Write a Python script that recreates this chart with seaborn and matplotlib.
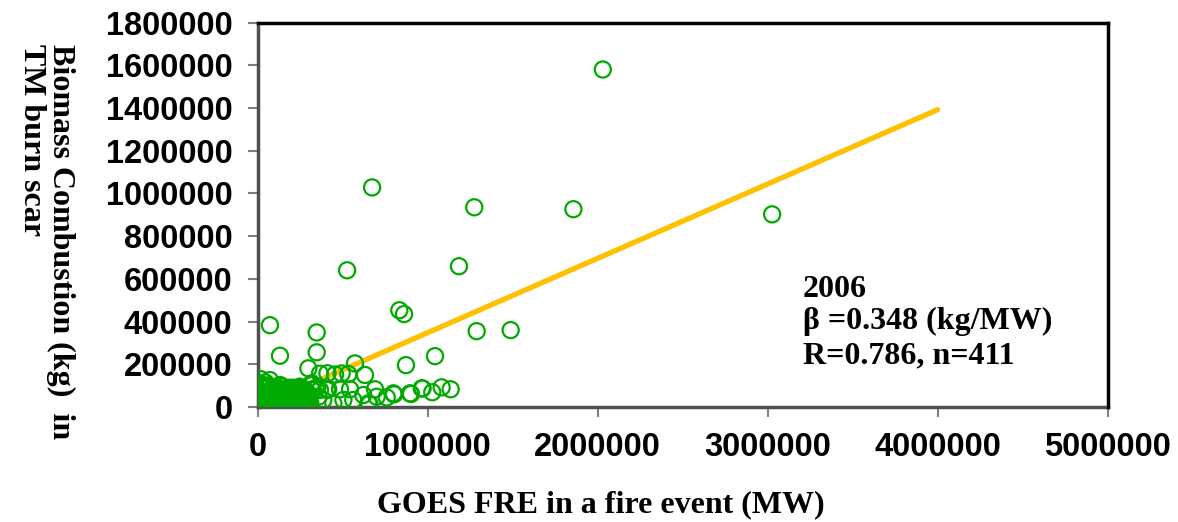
import matplotlib
matplotlib.use("Agg")
import matplotlib.pyplot as plt
import seaborn as sns
import numpy as np
import pandas as pd

# ---- data ----
# outlying / resolvable points (MW, kg)
fre_outer = [2030000, 673000, 1274000, 1857000, 3026000, 526000, 1184000, 833000, 861000,
             72000, 347000, 1288000, 1488000, 131000, 347000, 872000, 1043000, 298000, 572000,
             366000, 410000, 455000, 494000, 533000, 631000,
             72000, 131000, 180000, 249000, 318000, 366000, 406000,
             415000, 484000, 543000, 621000, 690000, 700000, 759000, 802000, 902000, 970000,
             1027000, 1082000, 1135000, 657000, 562000, 504000, 445000, 386000, 308000,
             357000, 318000, 320000, 340000, 350000, 651000, 798000, 896000, 965000]
bio_outer = [1580000, 1028000, 935000, 926000, 902000, 640000, 659000, 453000, 435000,
             383000, 349000, 355000, 360000, 240000, 256000, 196000, 238000, 181000, 204000,
             156000, 158000, 152000, 157000, 154000, 150000,
             126000, 103000, 87000, 87000, 80000, 80000, 80000,
             83000, 83000, 83000, 56000, 83000, 48000, 45000, 59000, 61000, 87000,
             69000, 92000, 83000, 14000, 33000, 33000, 17000, 33000, 2000,
             48000, 111000, 103000, 88000, 90000, 17000, 64000, 64000, 87000]

# dense cluster near the origin (thousands of MW, thousands of kg)
fre_cluster_k = [5, 8, 12, 15, 18, 20, 22, 25, 28, 30, 32, 35, 38, 40, 42, 45, 48, 50, 52, 55,
                 58, 60, 62, 65, 68, 70, 72, 75, 78, 80, 82, 85, 88, 90, 92, 95, 98, 100, 105, 108,
                 110, 112, 115, 118, 120, 125, 128, 130, 135, 138, 140, 145, 148, 150, 155, 158, 160,
                 165, 168, 170, 175, 178, 180, 185, 188, 190, 195, 198, 200, 205, 210, 215, 218, 220,
                 225, 230, 235, 240, 245, 250, 255, 260, 265, 270, 275, 280, 285, 290, 295, 300, 305,
                 310, 2, 3, 4, 6, 3, 10, 14, 20, 26, 35, 45, 55, 10, 15, 25, 40, 60, 90, 120, 160,
                 200, 240, 280, 5, 9, 12, 17, 24, 33, 43, 57, 67, 77, 87, 97, 107, 117, 127, 137,
                 147, 157, 167, 177, 187, 197, 207, 217, 227, 237, 247, 257, 267, 277, 287]
bio_cluster_k = [2, 10, 5, 20, 3, 35, 12, 8, 50, 25, 4, 15, 60, 30, 8, 45, 18, 2, 70, 28,
                 12, 90, 40, 6, 55, 22, 14, 35, 3, 65, 25, 10, 48, 18, 80, 5, 38, 28, 12, 60,
                 20, 42, 8, 30, 75, 15, 50, 4, 35, 22, 62, 10, 45, 28, 6, 55, 18,
                 38, 70, 12, 30, 48, 3, 22, 60, 40, 8, 28, 52, 15, 35, 5, 68, 25,
                 45, 10, 30, 58, 18, 38, 4, 25, 50, 12, 65, 30, 8, 45, 20, 60, 35,
                 15, 40, 25, 60, 15, 80, 95, 110, 130, 100, 85, 115, 100, 5, 1, 0, 1, 0, 1, 0, 1,
                 0, 2, 1, 30, 55, 75, 45, 65, 40, 25, 50, 35, 80, 60, 90, 45, 55, 85, 70,
                 95, 80, 55, 85, 90, 75, 90, 50, 75, 85, 95, 75, 85, 80, 70]

beta = 0.348
line_fre = [0, 4000000]

x_ticks = [0, 1000000, 2000000, 3000000, 4000000, 5000000]
y_ticks = [0, 200000, 400000, 600000, 800000, 1000000, 1200000, 1400000, 1600000, 1800000]

# ---- build frame ----
fre = list(fre_outer) + [v * 1000 for v in fre_cluster_k]
bio = list(bio_outer) + [v * 1000 for v in bio_cluster_k]
df = pd.DataFrame({"fre": fre, "bio": bio})
line_df = pd.DataFrame({"fre": line_fre, "bio": [beta * v for v in line_fre]})

sns.set_style("white")
plt.rcParams["font.family"] = ["Liberation Sans", "DejaVu Sans"]
plt.rcParams["text.color"] = "black"

fig = plt.figure(figsize=(11.78, 5.22), dpi=100)
ax = fig.add_axes([257.7 / 1178, 115 / 522, 850 / 1178, 384.5 / 522])

sns.lineplot(data=line_df, x="fre", y="bio", ax=ax, color="#FFC000", linewidth=3.8,
             solid_capstyle="round", zorder=2)
sns.scatterplot(data=df, x="fre", y="bio", ax=ax, s=135, facecolor="none",
                edgecolor="#00AA00", linewidth=1.6, zorder=3)

ax.set_xlim(0, 5000000)
ax.set_ylim(0, 1800000)
ax.set_xticks(x_ticks)
ax.set_yticks(y_ticks)
sans = ["Liberation Sans", "DejaVu Sans"]
ax.set_xticklabels([str(v) for v in x_ticks], fontsize=23.5, fontweight="bold",
                   family=sans, color="black")
ax.set_yticklabels([str(v) for v in y_ticks], fontsize=23.5, fontweight="bold",
                   family=sans, color="black")
ax.tick_params(axis="both", direction="out", length=7, width=1.5, color="#808080",
               pad=11, bottom=True, left=True)
ax.set_xlabel("")
ax.set_ylabel("")

for side in ["top", "right"]:
    ax.spines[side].set_color("black")
    ax.spines[side].set_linewidth(2.5)
for side in ["left", "bottom"]:
    ax.spines[side].set_color("#505050")
    ax.spines[side].set_linewidth(2.5)
    ax.spines[side].set_zorder(1)

serif = ["Liberation Serif", "DejaVu Serif"]
fig.text(601 / 1178, (522 - 505) / 522, "GOES FRE in a fire event (MW)", ha="center",
         va="center", fontsize=23, fontweight="bold", family=serif, color="black")
fig.text(46 / 1178, (522 - 44) / 522, "Biomass Combustion (kg)  in\nTM burn scar",
         rotation=270, ha="center", va="top", multialignment="left", fontsize=23,
         fontweight="bold", family=serif, linespacing=1.0, color="black")

ann_x = 803 / 1178
fig.text(ann_x, (522 - 297) / 522, "2006", ha="left", va="baseline", fontsize=23,
         fontweight="bold", family=serif, color="black")
fig.text(ann_x, (522 - 329) / 522, "\u03b2 =0.348 (kg/MW)", ha="left", va="baseline",
         fontsize=23, fontweight="bold", family=serif, color="black")
fig.text(ann_x, (522 - 363) / 522, "R=0.786, n=411", ha="left", va="baseline",
         fontsize=23, fontweight="bold", family=serif, color="black")

fig.savefig("out.png", dpi=100)
